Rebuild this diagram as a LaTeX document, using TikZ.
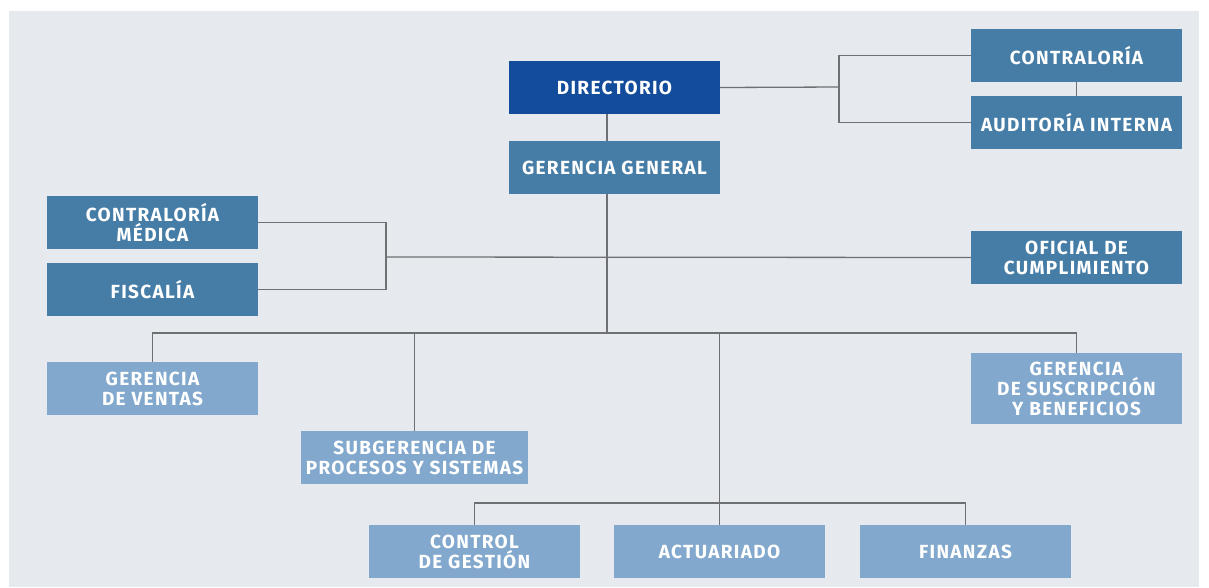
\documentclass[tikz,border=0pt]{standalone}
\usepackage{fontspec}
\setmainfont{Fira Sans}[UprightFont={* Bold}, LetterSpace=7]
\definecolor{bgc}{HTML}{E6EAEE}
\definecolor{darkb}{HTML}{134C9B}
\definecolor{midb}{HTML}{467DA6}
\definecolor{lightb}{HTML}{82A9CD}
\definecolor{linec}{HTML}{6E7073}
\tikzset{
  box/.style={rectangle, minimum width=211pt, minimum height=53pt, inner sep=0pt,
    text=white, align=center, font=\fontsize{19}{20}\selectfont},
  boxdark/.style={box, fill=darkb},
  boxmid/.style={box, fill=midb},
  boxlight/.style={box, fill=lightb},
  conn/.style={draw=linec, line width=1.3pt}
}
\begin{document}
\begin{tikzpicture}[x=1pt,y=-1pt]
\useasboundingbox (0,0) rectangle (1209,587);
\fill[bgc] (9,11) rectangle (1199,587);

\node[boxdark] (dir) at (614.5,87.5) {DIRECTORIO};
\node[boxmid] (gg) at (614.5,167.5) {GERENCIA GENERAL};
\node[boxmid] (contra) at (1076.5,55.5) {CONTRALORÍA};
\node[boxmid] (audit) at (1076.5,122.5) {AUDITORÍA INTERNA};
\node[boxmid] (cm) at (152.5,222.5) {CONTRALORÍA\\MÉDICA};
\node[boxmid] (fis) at (152.5,289.5) {FISCALÍA};
\node[boxmid] (ofi) at (1076.5,257.5) {OFICIAL DE\\CUMPLIMIENTO};
\node[boxlight] (gv) at (152.5,388.5) {GERENCIA\\DE VENTAS};
\node[boxlight, minimum width=227pt] (sub) at (414.5,457.5) {SUBGERENCIA DE\\PROCESOS Y SISTEMAS};
\node[boxlight, minimum height=71pt] (gs) at (1076.5,388.5) {GERENCIA\\DE SUSCRIPCIÓN\\Y BENEFICIOS};
\node[boxlight] (cg) at (474.5,551.5) {CONTROL\\DE GESTIÓN};
\node[boxlight] (act) at (719.5,551.5) {ACTUARIADO};
\node[boxlight] (fin) at (965.5,551.5) {FINANZAS};

\coordinate (trunk) at (607,333);
\coordinate (bra) at (839,87);
\coordinate (brb) at (386,257);
\coordinate (low) at (720,503);

% Directorio - Gerencia General
\draw[conn] (dir.south -| trunk) -- (gg.north -| trunk);
% Directorio to Contraloria / Auditoria
\draw[conn] (dir.east) -- (bra);
\draw[conn] (contra.west) -| (bra) |- (audit.west);
\draw[conn] (contra.south) -- (audit.north);
% Contraloria medica / Fiscalia to Oficial
\draw[conn] (cm.east) -| (brb) |- (fis.east);
\draw[conn] (brb) -- (ofi.west);
% trunk
\draw[conn] (gg.south -| trunk) -- (trunk);
\draw[conn] (gv.north) |- (trunk) -| (gs.north);
\draw[conn] (sub.north) -- (sub.north |- trunk);
\draw[conn] (trunk -| act.north) -- (act.north);
\draw[conn] (cg.north) |- (low) -| (fin.north);
\end{tikzpicture}
\end{document}
